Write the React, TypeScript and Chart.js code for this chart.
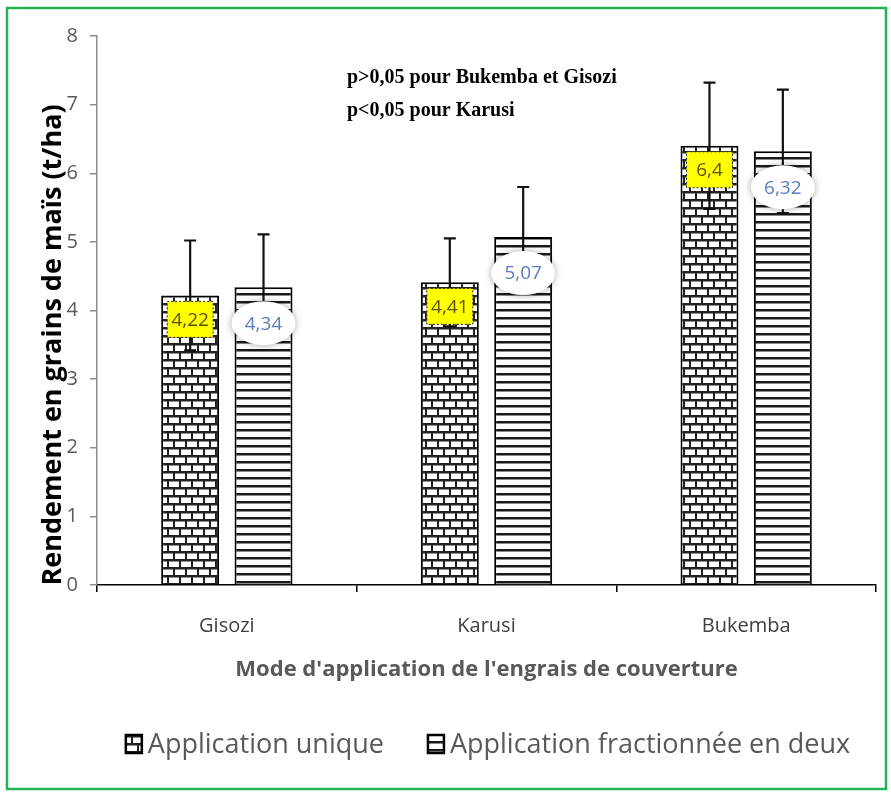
import React, { useEffect, useRef } from 'react';
import { Chart, registerables } from 'chart.js';

Chart.register(...registerables);

const categories = ['Gisozi', 'Karusi', 'Bukemba'];
const seriesNames = ['Application unique', 'Application fractionnée en deux'];
const uniqueValues = [4.22, 4.41, 6.4];
const splitValues = [4.34, 5.07, 6.32];
const uniqueErrors = [0.8, 0.64, 0.92];
const splitErrors = [0.77, 0.73, 0.9];
const yTicks = [0, 1, 2, 3, 4, 5, 6, 7, 8];
const notes = ['p>0,05 pour Bukemba et Gisozi', 'p<0,05 pour Karusi'];
const xTitle = "Mode d'application de l'engrais de couverture";
const yTitle = 'Rendement en grains de maïs (t/ha)';

const fmt = (v: number) => String(v).replace('.', ',');

function brickPattern(ctx: CanvasRenderingContext2D): CanvasPattern | string {
  const c = document.createElement('canvas');
  c.width = 24;
  c.height = 16;
  const g = c.getContext('2d');
  if (!g) return '#888';
  g.fillStyle = '#222';
  g.fillRect(0, 0, 24, 16);
  g.fillStyle = '#ffffff';
  g.fillRect(1, 1.5, 10, 5.5);
  g.fillRect(13, 1.5, 10, 5.5);
  g.fillRect(-5, 9.5, 10, 5.5);
  g.fillRect(7, 9.5, 10, 5.5);
  g.fillRect(19, 9.5, 10, 5.5);
  return ctx.createPattern(c, 'repeat') || '#888';
}

function linePattern(ctx: CanvasRenderingContext2D): CanvasPattern | string {
  const c = document.createElement('canvas');
  c.width = 8;
  c.height = 8;
  const g = c.getContext('2d');
  if (!g) return '#888';
  g.fillStyle = '#ffffff';
  g.fillRect(0, 0, 8, 8);
  g.fillStyle = '#1a1a1a';
  g.fillRect(0, 5, 8, 2);
  g.fillStyle = '#8a8a8a';
  g.fillRect(0, 7, 8, 1);
  return ctx.createPattern(c, 'repeat') || '#888';
}

export default function App() {
  const ref = useRef<HTMLCanvasElement | null>(null);

  useEffect(() => {
    const canvas = ref.current;
    if (!canvas) return;
    const ctx0 = canvas.getContext('2d') as CanvasRenderingContext2D;
    const patterns = [brickPattern(ctx0), linePattern(ctx0)];
    const errors = [uniqueErrors, splitErrors];

    const overlay = {
      id: 'overlay',
      afterDatasetsDraw(chart: any) {
        const ctx: CanvasRenderingContext2D = chart.ctx;
        const ys = chart.scales.y;
        chart.data.datasets.forEach((ds: any, di: number) => {
          const meta = chart.getDatasetMeta(di);
          meta.data.forEach((bar: any, i: number) => {
            const v = ds.data[i];
            const e = errors[di][i];
            const yt = ys.getPixelForValue(v + e);
            const yb = ys.getPixelForValue(v - e);
            ctx.save();
            ctx.strokeStyle = '#111';
            ctx.lineWidth = 2.2;
            ctx.beginPath();
            ctx.moveTo(bar.x, yt);
            ctx.lineTo(bar.x, yb);
            ctx.moveTo(bar.x - 6, yt);
            ctx.lineTo(bar.x + 6, yt);
            ctx.moveTo(bar.x - 6, yb);
            ctx.lineTo(bar.x + 6, yb);
            ctx.stroke();
            ctx.restore();
          });
        });
        chart.data.datasets.forEach((ds: any, di: number) => {
          const meta = chart.getDatasetMeta(di);
          meta.data.forEach((bar: any, i: number) => {
            const v = ds.data[i];
            const top = bar.y;
            ctx.save();
            ctx.font = '19px "Open Sans"';
            ctx.textAlign = 'center';
            ctx.textBaseline = 'middle';
            if (di === 0) {
              const w = 46, h = 36;
              const cy = top + 6 + h / 2;
              ctx.fillStyle = '#ffff00';
              ctx.fillRect(bar.x - w / 2, cy - h / 2, w, h);
              ctx.setLineDash([2, 2]);
              ctx.strokeStyle = '#222';
              ctx.lineWidth = 1;
              ctx.strokeRect(bar.x - w / 2, cy - h / 2, w, h);
              ctx.setLineDash([]);
              ctx.fillStyle = '#5c5200';
              ctx.fillText(fmt(v), bar.x, cy + 1);
            } else {
              const cy = top + 36;
              ctx.shadowColor = 'rgba(0,0,0,0.35)';
              ctx.shadowBlur = 7;
              ctx.fillStyle = '#ffffff';
              ctx.beginPath();
              ctx.ellipse(bar.x, cy, 32, 22, 0, 0, Math.PI * 2);
              ctx.fill();
              ctx.shadowColor = 'transparent';
              ctx.shadowBlur = 0;
              ctx.fillStyle = '#5a7cc2';
              ctx.fillText(fmt(v), bar.x, cy + 1);
            }
            ctx.restore();
          });
        });
      },
      afterDraw(chart: any) {
        const ctx: CanvasRenderingContext2D = chart.ctx;
        const area = chart.chartArea;
        ctx.save();
        ctx.fillStyle = '#000';
        ctx.font = 'bold 20px "Liberation Serif"';
        ctx.textAlign = 'left';
        ctx.textBaseline = 'middle';
        notes.forEach((n, i) => ctx.fillText(n, 347, 78 + i * 33));
        ctx.save();
        ctx.translate(53, 345);
        ctx.rotate(-Math.PI / 2);
        ctx.font = 'bold 27px "Open Sans"';
        ctx.fillStyle = '#000';
        ctx.textAlign = 'center';
        ctx.textBaseline = 'middle';
        ctx.fillText(yTitle, 0, 0);
        ctx.restore();
        ctx.font = 'bold 22px "Open Sans"';
        ctx.fillStyle = '#595959';
        ctx.textAlign = 'center';
        ctx.textBaseline = 'middle';
        ctx.fillText(xTitle, (area.left + area.right) / 2, 670);
        ctx.font = '27px "Open Sans"';
        ctx.textAlign = 'left';
        const iconW = 16, iconH = 18, gapIcon = 6, gapItem = 44;
        const widths = seriesNames.map((s) => ctx.measureText(s).width);
        const total = widths.reduce((a, w) => a + iconW + gapIcon + w, 0) + gapItem * (seriesNames.length - 1);
        let x = 488 - total / 2;
        const ly = 744;
        seriesNames.forEach((s, i) => {
          ctx.fillStyle = patterns[i] as any;
          ctx.fillRect(x, ly - iconH / 2, iconW, iconH);
          ctx.strokeStyle = '#000';
          ctx.lineWidth = 2.5;
          ctx.strokeRect(x, ly - iconH / 2, iconW, iconH);
          ctx.fillStyle = '#595959';
          ctx.fillText(s, x + iconW + gapIcon, ly + 1);
          x += iconW + gapIcon + widths[i] + gapItem;
        });
        ctx.strokeStyle = '#21b356';
        ctx.lineWidth = 2.5;
        ctx.strokeRect(7, 8, 879, 781);
        ctx.restore();
      },
    };

    const chart = new Chart(canvas, {
      type: 'bar',
      data: {
        labels: categories,
        datasets: [
          {
            label: seriesNames[0],
            data: uniqueValues,
            backgroundColor: patterns[0] as any,
            borderColor: '#000',
            borderWidth: 2,
          },
          {
            label: seriesNames[1],
            data: splitValues,
            backgroundColor: patterns[1] as any,
            borderColor: '#000',
            borderWidth: 2,
          },
        ],
      },
      options: {
        animation: false,
        responsive: false,
        maintainAspectRatio: false,
        layout: { padding: { left: 0, right: 15, top: 36, bottom: 0 } },
        datasets: { bar: { categoryPercentage: 0.565, barPercentage: 0.79 } },
        plugins: { legend: { display: false }, tooltip: { enabled: false }, title: { display: false } },
        scales: {
          x: {
            grid: {
              display: true,
              drawOnChartArea: false,
              drawTicks: true,
              tickLength: 7,
              color: '#000',
              lineWidth: 1.5,
              offset: true,
            },
            border: { display: true, color: '#000', width: 1.5 },
            ticks: { color: '#404040', font: { family: 'Open Sans', size: 20 }, padding: 22 },
            afterFit(scale: any) {
              scale.height = 208;
            },
          },
          y: {
            min: 0,
            max: 8,
            afterBuildTicks(scale: any) {
              scale.ticks = yTicks.map((v) => ({ value: v }));
            },
            ticks: { color: '#595959', font: { family: 'Open Sans', size: 20 }, padding: 12 },
            grid: {
              drawOnChartArea: false,
              drawTicks: true,
              tickLength: 7,
              color: '#8c8c8c',
              lineWidth: 1.5,
            },
            border: { display: true, color: '#8c8c8c', width: 1.5 },
            afterFit(scale: any) {
              scale.width = 97;
            },
          },
        },
      },
      plugins: [overlay],
    } as any);

    return () => chart.destroy();
  }, []);

  return (
    <div style={{ position: 'fixed', left: 0, top: 0, width: 891, height: 793, background: '#fff' }}>
      <canvas ref={ref} width={891} height={793} style={{ display: 'block' }} />
    </div>
  );
}
